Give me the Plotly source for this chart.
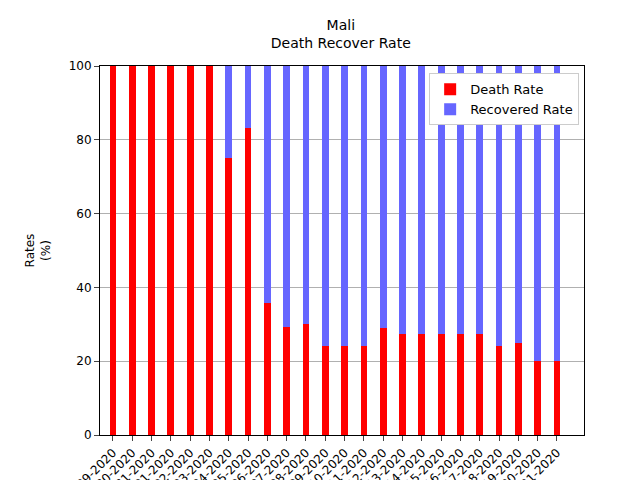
import plotly.graph_objects as go

dates = ["03-29-2020", "03-30-2020", "03-31-2020"] + [f"04-{d:02d}-2020" for d in range(1, 22)]
death_rate = [100, 100, 100, 100, 100, 100, 75, 83.3, 35.7, 29.4, 30, 24, 24, 24, 29,
              27.3, 27.3, 27.3, 27.3, 27.3, 24, 25, 20, 20]
recovered_rate = [100 - d for d in death_rate]

fig = go.Figure()
fig.add_trace(go.Bar(x=dates, y=death_rate, name="Death Rate", marker_color="#ff0000",
                     marker_line_width=0, width=0.35))
fig.add_trace(go.Bar(x=dates, y=recovered_rate, name="Recovered Rate", marker_color="#6666ff",
                     marker_line_width=0, width=0.35))

fig.update_layout(
    barmode="stack",
    width=640, height=480,
    paper_bgcolor="white", plot_bgcolor="white",
    font=dict(family="DejaVu Sans", size=12, color="black"),
    title=dict(text="Mali<br>Death Recover Rate", x=0.52, xanchor="center", y=0.955,
               font=dict(size=14)),
    margin=dict(l=92, r=64, t=58, b=53),
    showlegend=True,
    legend=dict(x=0.99, y=0.98, xanchor="right", yanchor="top", bgcolor="white",
                bordercolor="#cccccc", borderwidth=1, font=dict(size=13),
                traceorder="normal"),
    bargap=0,
)
fig.update_xaxes(tickangle=-45, showline=True, linecolor="black", mirror=True,
                 ticks="outside", tickfont=dict(size=12), range=[-0.67, 24.4],
                 automargin=False)
fig.update_yaxes(range=[0, 100], dtick=20, showgrid=True, gridcolor="#b0b0b0",
                 showline=True, linecolor="black", mirror=True, ticks="outside",
                 title=dict(text="Rates<br>(%)", font=dict(size=12)), zeroline=False,
                 automargin=False)

fig.write_html("out.html")
